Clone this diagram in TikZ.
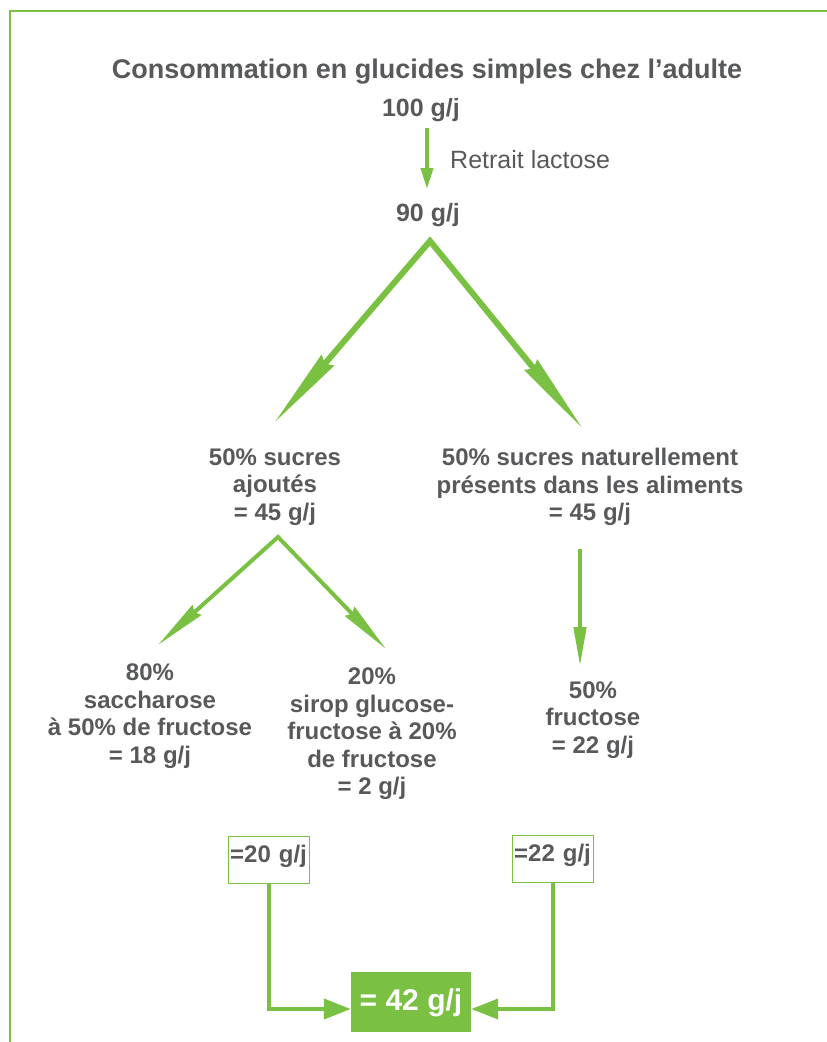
\documentclass[tikz,border=0pt]{standalone}
\usepackage{fontspec}
\setmainfont{Liberation Sans}
\usetikzlibrary{arrows.meta,calc}
\definecolor{vert}{HTML}{7AC143}
\definecolor{gris}{HTML}{58595B}
\begin{document}
\begin{tikzpicture}[x=1pt,y=-1pt,
  txt/.style={text=gris,font=\fontsize{24}{27.5}\selectfont\bfseries,align=center,inner sep=0pt},
  smallbox/.style={draw=vert,line width=1.3pt,text=gris,font=\fontsize{24}{27.5}\selectfont\bfseries,
     anchor=north west,align=left,text width=78pt,inner xsep=1.5pt,inner ysep=0pt,text height=26pt,text depth=21pt},
  bigbox/.style={fill=vert,text=white,font=\fontsize{30}{34}\selectfont\bfseries,
     minimum width=120pt,minimum height=60pt,inner sep=0pt,text height=22pt,text depth=6pt},
  bigV/.style={vert,line width=6pt,{Stealth[length=82pt,width=16pt,inset=4pt]}-{Stealth[length=82pt,width=16pt,inset=4pt]}},
  midV/.style={vert,line width=4pt,{Stealth[length=52pt,width=13pt,inset=3pt]}-{Stealth[length=52pt,width=13pt,inset=3pt]}},
  downarr/.style={vert,line width=4.5pt,-{Triangle[length=40pt,width=12pt]}},
  smallarr/.style={vert,line width=4pt,-{Triangle[length=21pt,width=12pt]}},
  joinarr/.style={vert,line width=4pt,-{Triangle[length=27pt,width=20pt]}}
]
\useasboundingbox (0,0) rectangle (827,1042);
% frame
\draw[vert,line width=1.5pt] (10,1042) -- (10,11) -- (827,11);

% texts
\node[txt,font=\fontsize{27}{30}\selectfont\bfseries] (title) at (427,72) {Consommation en glucides simples chez l’adulte};
\node[txt,font=\fontsize{25}{28}\selectfont\bfseries] (n100) at (421,110) {100 g/j};
\node[txt,anchor=west,font=\fontsize{25}{28}\selectfont] (ret) at (450,160) {Retrait lactose};
\node[txt,font=\fontsize{25}{28}\selectfont\bfseries] (n90) at (428,215) {90 g/j};
\node[txt] (nA) at (275,487) {50\% sucres\\ajoutés\\= 45 g/j};
\node[txt] (nB) at (590,487) {50\% sucres naturellement\\présents dans les aliments\\= 45 g/j};
\node[txt] (nC) at (150,716) {80\%\\saccharose\\à 50\% de fructose\\= 18 g/j};
\node[txt] (nD) at (372,734) {20\%\\sirop glucose-\\fructose à 20\%\\de fructose\\= 2 g/j};
\node[txt] (nE) at (593,720) {50\%\\fructose\\= 22 g/j};

% boxes
\node[smallbox] (b20) at (228,836) {=20 g/j};
\node[smallbox] (b22) at (512,835) {=22 g/j};
\node[bigbox] (b42) at (411,1002) {= 42 g/j};

% coordinates for arrows
\coordinate (a1s) at (427,128);
\coordinate (a1e) at (427,189);
\coordinate (v1) at (430,241);
\coordinate (v1l) at (274,423);
\coordinate (v1r) at (583,429);
\coordinate (v2) at (278,537);
\coordinate (v2l) at (158,645);
\coordinate (v2r) at (386,649);
\coordinate (v3s) at (580,549);
\coordinate (v3e) at (580,667);

\draw[smallarr] (a1s) -- (a1e);
\draw[bigV,line join=miter,miter limit=20] (v1l) -- (v1) -- (v1r);
\draw[midV,line join=miter,miter limit=20] (v2l) -- (v2) -- (v2r);
\draw[downarr] (v3s) -- (v3e);

\draw[joinarr] (b20.south) |- ($(b42.west)+(0,7)$);
\draw[joinarr] (b22.south) |- ($(b42.east)+(0,7)$);
\end{tikzpicture}
\end{document}
